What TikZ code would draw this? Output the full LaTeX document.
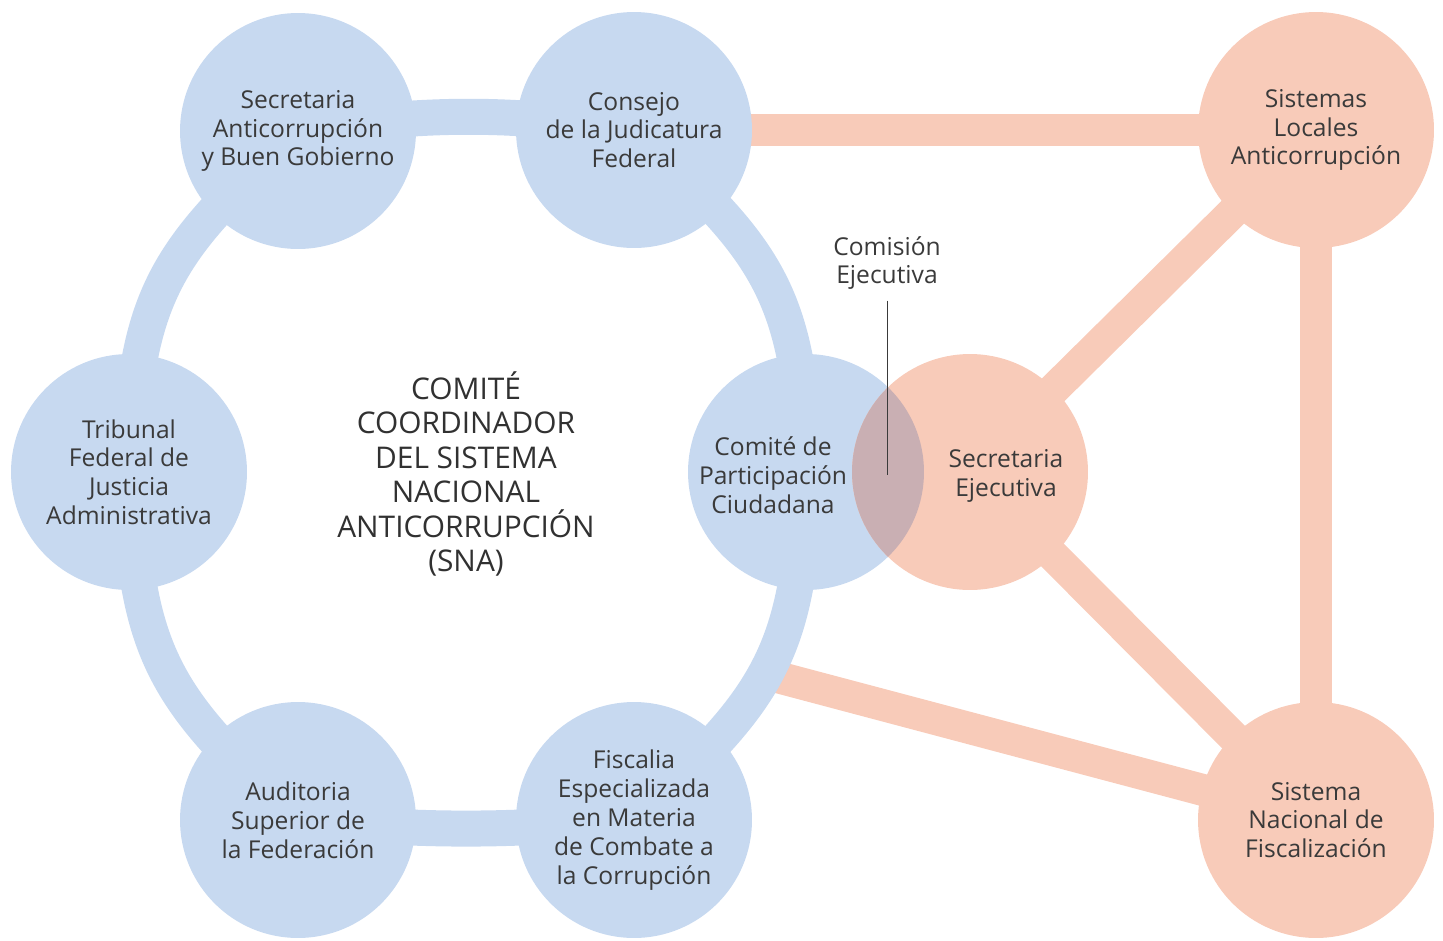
\documentclass[tikz,border=0pt]{standalone}
\usepackage{fontspec}
\setmainfont{Open Sans}
\usepackage{xcolor}
\usepackage{tikz}
\usetikzlibrary{positioning}

\definecolor{snablue}{RGB}{199,217,240}
\definecolor{snaorange}{RGB}{248,203,185}
\definecolor{snalens}{RGB}{201,175,179}
\definecolor{snatext}{RGB}{58,58,58}

\tikzset{
    organo/.style={
        circle,
        fill=snablue,
        minimum size=4.72cm,
        inner sep=0pt,
        align=center,
        text=snatext,
        font=\fontsize{14}{16.4}\selectfont
    },
    sistema/.style={organo, fill=snaorange},
    anillo/.style={line width=0.72cm, draw=snablue, line join=round},
    enlace/.style={line width=0.64cm, draw=snaorange},
    rotulo/.style={align=center, text=snatext, font=\fontsize{14}{16.4}\selectfont}
}

\begin{document}
\begin{tikzpicture}[x=0.02cm, y=-0.02cm]
                \useasboundingbox (0,0) rectangle (1443,940);

                \coordinate (sec) at (298,131);
                \coordinate (con) at (634,130);
                \coordinate (tri) at (129,472);
                \coordinate (cpc) at (806,472);
                \coordinate (aud) at (298,820);
                \coordinate (fis) at (634,820);
                \coordinate (sla) at (1316,130);
                \coordinate (se) at (970,472);
                \coordinate (snf) at (1316,820);
                \coordinate (ringpt) at (762,673);

                \draw[enlace] (con) to (sla);
                \draw[enlace] (sla) to (se);
                \draw[enlace] (sla) to (snf);
                \draw[enlace] (se) to (snf);
                \draw[enlace] (ringpt) to (snf);

                \draw[anillo]
                    (sec) to[bend left=8] (con)
                    to[out=318, in=92, looseness=1.2] (cpc)
                    to[out=268, in=42, looseness=1.2] (fis)
                    to[bend left=5] (aud)
                    to[out=138, in=272, looseness=1.2] (tri)
                    to[out=88, in=222, looseness=1.2] (sec);

                \node[organo] (secN) at (sec) {Secretaria\\Anticorrupción\\y Buen Gobierno};
                \node[organo] (conN) at (con) {Consejo\\de la Judicatura\\Federal};
                \node[organo] (triN) at (tri) {Tribunal\\Federal de\\Justicia\\Administrativa};
                \node[organo] (audN) at (aud) {Auditoria\\Superior de\\la Federación};
                \node[organo] (fisN) at (fis) {Fiscalia\\Especializada\\en Materia\\de Combate a\\la Corrupción};
                \node[organo] (cpcN) at (cpc) {};
                \node[sistema] (seN) at (se) {};
                \node[sistema] (slaN) at (sla) {Sistemas\\Locales\\Anticorrupción};
                \node[sistema] (snfN) at (snf) {Sistema\\Nacional de\\Fiscalización};

                \begin{scope}
                    \clip (cpc) circle (2.36cm);
                    \fill[snalens] (se) circle (2.36cm);
                \end{scope}

                \node[rotulo] (cpcT) at (773,475) {Comité de\\Participación\\Ciudadana};
                \node[rotulo] (seT) at (1006,476) {Secretaria\\Ejecutiva};

                \node[
                    align=center,
                    text=snatext!85!black,
                    font=\fontsize{17}{19.6}\selectfont
                    ] (cc) at (466,474) {COMITÉ\\COORDINADOR\\DEL SISTEMA\\NACIONAL\\ANTICORRUPCIÓN\\(SNA)};

                \node[rotulo, inner sep=2pt] (com) at (887,263) {Comisión\\Ejecutiva};
                \coordinate (comfin) at (887,475);
                \draw[
                    line width=0.4pt,
                    draw=snatext
                ] ([yshift=-4pt]com.south) to (comfin);

            \end{tikzpicture}
\end{document}
